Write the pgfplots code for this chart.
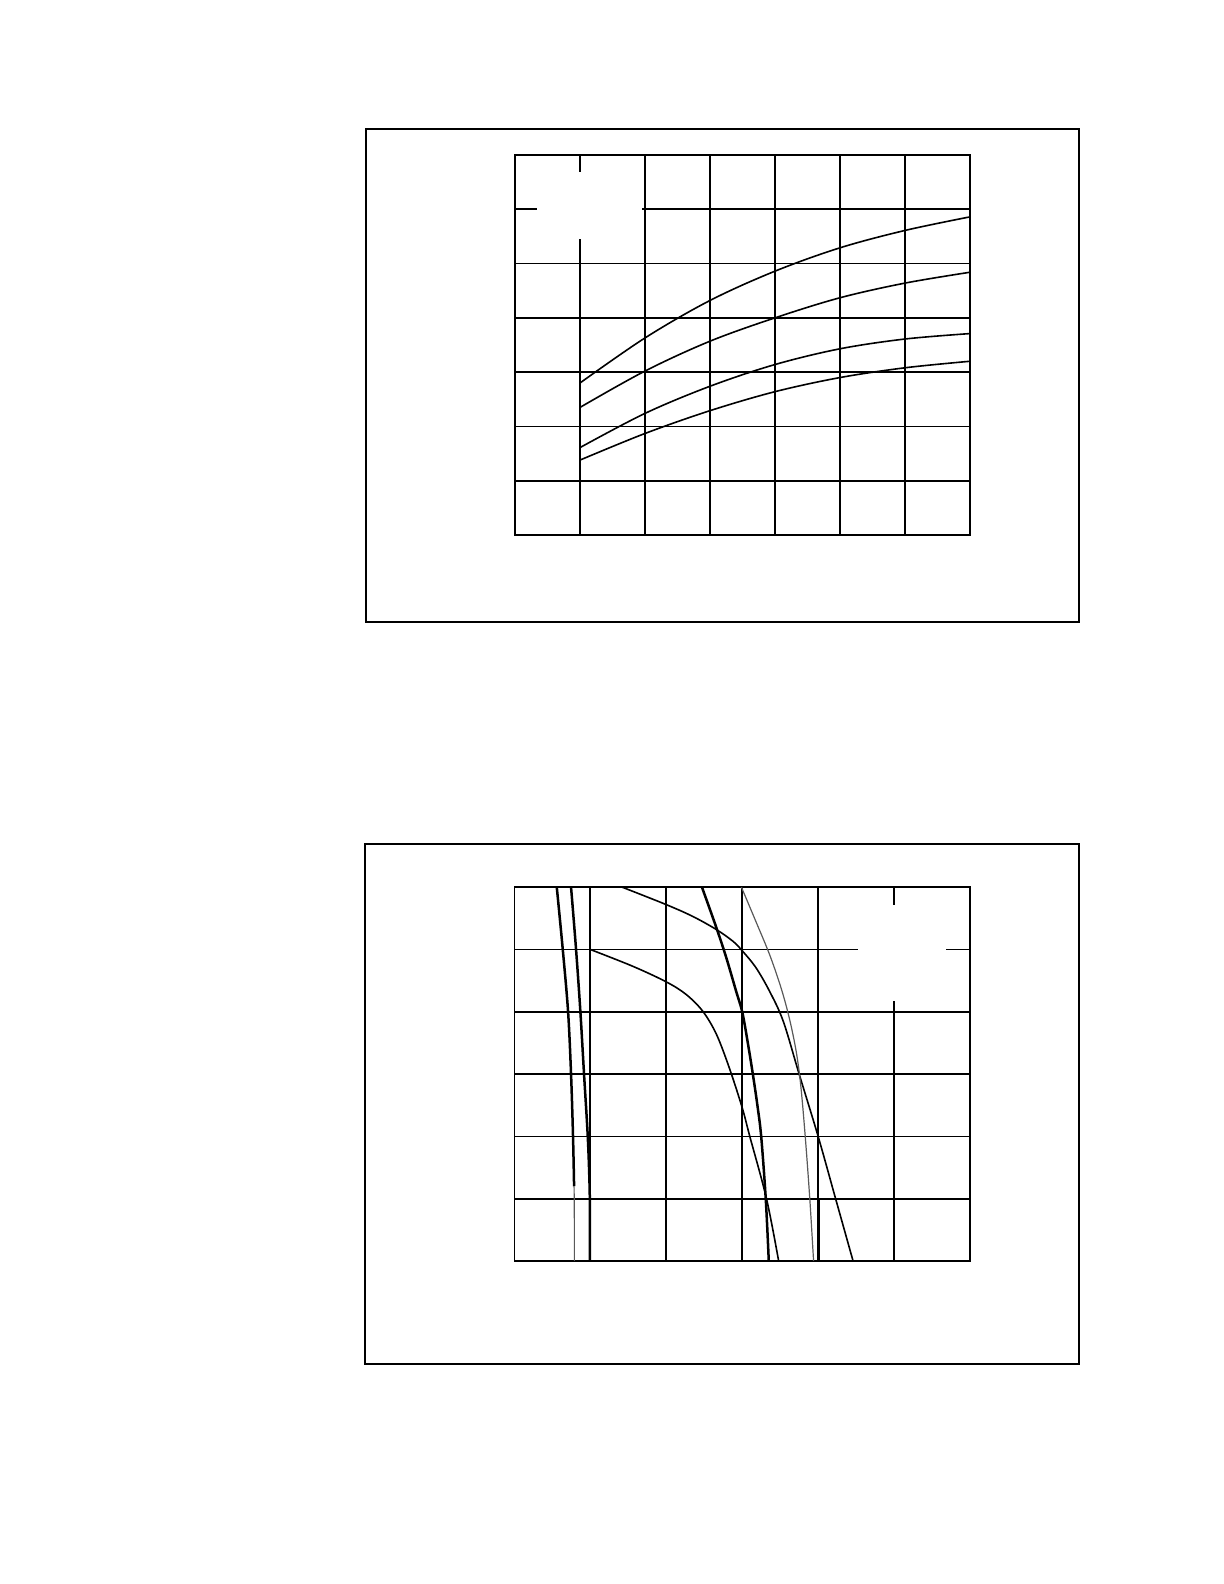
\documentclass[border=0pt]{standalone}
\usepackage{pgfplots}
\pgfplotsset{compat=1.18}

\pgfplotsset{
  blankgrid/.style={
    scale only axis,
    anchor=south west,
    grid=major,
    grid style={black, line width=0.85bp},
    axis line style={black, line width=0.9bp},
    major tick length=0pt,
    xticklabels={}, yticklabels={},
    clip=true,
  },
  curve/.style={black, line width=0.8bp, smooth, tension=0.55, no markers},
  heavy/.style={black, line width=1.25bp, smooth, tension=0.55, no markers},
  faint/.style={black!65, line width=0.6bp, smooth, tension=0.55, no markers},
}

\begin{document}
\begin{tikzpicture}
% page 612bp x 792bp (1224 x 1584 px)
\path[use as bounding box] (0,0) rectangle (612bp,792bp);
\fill[white] (0,0) rectangle (612bp,792bp);

% outer frames
\draw[line width=0.9bp] (183bp,481bp) rectangle (539.5bp,727.5bp);
\draw[line width=0.9bp] (182.5bp,110bp) rectangle (539.5bp,370bp);

% upper chart
\begin{axis}[blankgrid,
  at={(257.5bp,524.5bp)},
  width=227.5bp, height=190bp,
  xmin=0, xmax=7, ymin=0, ymax=7,
  xtick={0,...,7}, ytick={0,...,7}]

  \fill[white] (axis cs:0.34,5.45) rectangle (axis cs:1.95,6.69);

  \addplot[curve] coordinates {
(1, 2.80) (2, 3.63) (3, 4.32) (4, 4.86) (5, 5.29) (6, 5.61) (7, 5.86)
  };
  \addplot[curve] coordinates {
(1, 2.35) (2, 3.02) (3, 3.57) (4, 4.00) (5, 4.37) (6, 4.64) (7, 4.84)
  };
  \addplot[curve] coordinates {
(1, 1.61) (2, 2.24) (3, 2.74) (4, 3.14) (5, 3.43) (6, 3.61) (7, 3.71)
  };
  \addplot[curve] coordinates {
(1, 1.38) (2, 1.87) (3, 2.29) (4, 2.64) (5, 2.90) (6, 3.08) (7, 3.20)
  };
\end{axis}

% lower chart
\begin{axis}[blankgrid,
  at={(257.2bp,161.5bp)},
  width=227.8bp, height=186.9bp,
  xmin=0, xmax=6, ymin=0, ymax=6,
  xtick={0,...,6}, ytick={0,...,6}]

  \fill[white] (axis cs:4.52,4.17) rectangle (axis cs:5.68,5.71);

  % steep pair on the left
  \addplot[heavy] coordinates {
(0.558, 6.0) (0.637, 5.0) (0.707, 4.0) (0.746, 3.0) (0.772, 2.0) (0.786, 1.2)
  };
  \addplot[faint, sharp plot] coordinates {
(0.786, 1.2) (0.790, 0.6) (0.790, 0.0)
  };
  \addplot[heavy] coordinates {
(0.746, 6.0) (0.812, 5.0) (0.869, 4.0) (0.917, 3.0) (0.966, 2.0) (0.990, 1.2) (0.995, 0.6) (0.995, 0.0)
  };

  % knee curves
  \addplot[curve] coordinates {
(1.42, 6.00) (2.00, 5.72) (2.35, 5.53) (2.66, 5.32) (2.88, 5.13) (3.00, 4.98)
(3.18, 4.71) (3.36, 4.33) (3.54, 3.85) (3.75, 3.00) (4.00, 2.00) (4.23, 1.00) (4.46, 0.00)
  };
  \addplot[curve] coordinates {
(1.00, 5.00) (1.56, 4.73) (2.00, 4.48) (2.26, 4.28) (2.48, 4.01) (2.66, 3.64)
(2.83, 3.10) (3.00, 2.46) (3.10, 2.00) (3.32, 1.00) (3.48, 0.00)
  };
  \addplot[heavy] coordinates {
(2.47, 6.00) (2.66, 5.35) (2.79, 4.87) (2.92, 4.33) (3.00, 4.00) (3.07, 3.53)
(3.14, 3.00) (3.20, 2.50) (3.25, 2.00) (3.31, 1.00) (3.35, 0.00)
  };
  \addplot[faint] coordinates {
(2.99, 6.00) (3.18, 5.45) (3.36, 4.92) (3.51, 4.39) (3.62, 3.90) (3.71, 3.37)
(3.77, 2.83) (3.83, 2.00) (3.89, 1.00) (3.94, 0.00)
  };
  \addplot[black, line width=1.5bp, no markers] coordinates {
(4.0, 0.0) (4.0, 1.0)
  };
\end{axis}
\end{tikzpicture}
\end{document}
